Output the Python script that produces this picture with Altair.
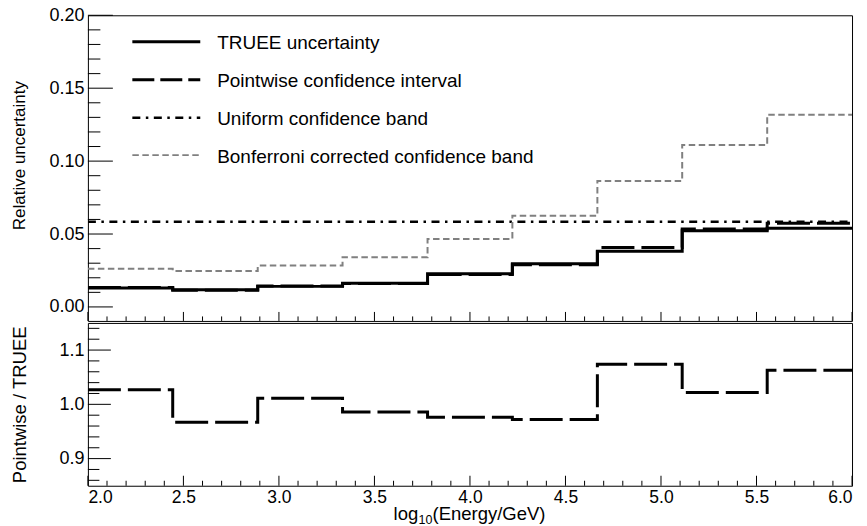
import altair as alt
import pandas as pd

# ---------------- data ----------------
bin_edges = [2.0, 2.444, 2.889, 3.333, 3.778, 4.222, 4.667, 5.111, 5.556, 6.0]
truee = [0.0130, 0.0118, 0.0141, 0.0162, 0.0228, 0.0296, 0.0382, 0.0523, 0.0539]
pointwise = [0.0134, 0.0114, 0.0143, 0.0160, 0.0223, 0.0289, 0.0408, 0.0535, 0.0574]
uniform = [0.0584, 0.0584, 0.0584, 0.0584, 0.0584, 0.0584, 0.0584, 0.0584, 0.0584]
bonferroni = [0.0262, 0.0246, 0.0284, 0.0341, 0.0466, 0.0625, 0.0864, 0.1110, 0.1318]
ratio = [1.027, 0.967, 1.011, 0.986, 0.976, 0.972, 1.074, 1.022, 1.063]

series_names = ["TRUEE uncertainty", "Pointwise confidence interval",
                "Uniform confidence band", "Bonferroni corrected confidence band"]

x_major = [2.0, 2.5, 3.0, 3.5, 4.0, 4.5, 5.0, 5.5, 6.0]
x_minor = [2.1, 2.2, 2.3, 2.4, 2.6, 2.7, 2.8, 2.9, 3.1, 3.2, 3.3, 3.4,
           3.6, 3.7, 3.8, 3.9, 4.1, 4.2, 4.3, 4.4, 4.6, 4.7, 4.8, 4.9,
           5.1, 5.2, 5.3, 5.4, 5.6, 5.7, 5.8, 5.9]
top_y_major = [0.0, 0.05, 0.10, 0.15, 0.20]
top_y_minor = [0.01, 0.02, 0.03, 0.04, 0.06, 0.07, 0.08, 0.09, 0.11, 0.12,
               0.13, 0.14, 0.16, 0.17, 0.18, 0.19]
bot_y_major = [0.9, 1.0, 1.1]
bot_y_minor = [0.86, 0.88, 0.92, 0.94, 0.96, 0.98, 1.02, 1.04, 1.06, 1.08,
               1.12, 1.14]

# ---------------- layout ----------------
W = 765
H_TOP = 306
H_BOT = 163
FONT = "Liberation Sans"

xs = alt.Scale(domain=[2.0, 6.0], nice=False, zero=False)
ys_top = alt.Scale(domain=[-0.0096, 0.20], nice=False, zero=False)
ys_bot = alt.Scale(domain=[0.85, 1.15], nice=False, zero=False)


def step_df(values):
    return pd.DataFrame({"x": bin_edges, "y": list(values) + [values[-1]]})


y_axis_top = alt.Axis(values=top_y_major, format=".2f", grid=False, domain=False,
                      ticks=False, labelFontSize=18, labelPadding=4, labelFont=FONT,
                      labelColor="black", title="Relative uncertainty",
                      titleFont=FONT, titleFontSize=17, titleFontWeight="normal",
                      titleColor="black", titleAngle=270, titleX=-68.5, titleY=140,
                      titleAlign="center", titleBaseline="middle")
y_axis_bot = alt.Axis(values=bot_y_major, format=".1f", grid=False, domain=False,
                      ticks=False, labelFontSize=18, labelPadding=4, labelFont=FONT,
                      labelColor="black", title="Pointwise / TRUEE",
                      titleFont=FONT, titleFontSize=18.5, titleFontWeight="normal",
                      titleColor="black", titleAngle=270, titleX=-68.5, titleY=81.5,
                      titleAlign="center", titleBaseline="middle")
x_axis_bot = alt.Axis(values=x_major, format=".1f", grid=False, domain=False,
                      ticks=False, labelFontSize=17.5, labelPadding=3, labelFont=FONT,
                      labelColor="black", title=None)


def step_line(values, yscale, yaxis, xaxis, color, width, dash):
    kw = dict(interpolate="step-after", color=color, strokeWidth=width, clip=True,
              strokeCap="butt")
    if dash:
        kw["strokeDash"] = dash
    return alt.Chart(step_df(values)).mark_line(**kw).encode(
        x=alt.X("x:Q", scale=xs, axis=xaxis),
        y=alt.Y("y:Q", scale=yscale, axis=yaxis),
    )


def x_ticks(values, length, h, xaxis):
    return alt.Chart(pd.DataFrame({"x": values})).mark_rule(color="black", strokeWidth=1).encode(
        x=alt.X("x:Q", scale=xs, axis=xaxis),
        y=alt.value(h - length),
        y2=alt.value(h),
    )


def y_ticks(values, length, yscale, yaxis):
    return alt.Chart(pd.DataFrame({"y": values})).mark_rule(color="black", strokeWidth=1).encode(
        y=alt.Y("y:Q", scale=yscale, axis=yaxis),
        x=alt.value(0),
        x2=alt.value(length),
    )


styles = [
    dict(color="black", width=3, dash=None, legend_dash=None),
    dict(color="black", width=3, dash=[33, 7], legend_dash=[22, 6]),
    dict(color="black", width=2.5, dash=[8, 5.5, 2.5, 5.5], legend_dash=[8, 5.5, 2.5, 5.5]),
    dict(color="#808080", width=2, dash=[6.5, 3.5], legend_dash=[6.5, 3.5]),
]
series_values = [truee, pointwise, uniform, bonferroni]

top_layers = []
for vals, st in zip(series_values, styles):
    top_layers.append(step_line(vals, ys_top, y_axis_top, None, st["color"], st["width"], st["dash"]))

# legend (custom, ROOT style)
legend_line_y = [26.5, 64.5, 102.5, 140.0]
for name, st, ly in zip(series_names, styles, legend_line_y):
    kw = dict(color=st["color"], strokeWidth=st["width"], strokeCap="butt")
    if st["legend_dash"]:
        kw["strokeDash"] = st["legend_dash"]
    top_layers.append(
        alt.Chart(pd.DataFrame({"label": [name]})).mark_rule(**kw).encode(
            x=alt.value(44.5), x2=alt.value(112.5), y=alt.value(ly)
        )
    )
    top_layers.append(
        alt.Chart(pd.DataFrame({"label": [name]})).mark_text(
            align="left", baseline="middle", font=FONT, fontSize=19, color="black"
        ).encode(x=alt.value(129.4), y=alt.value(ly + 1.5), text="label:N")
    )

top_layers += [
    x_ticks(x_major, 9, H_TOP, None),
    x_ticks(x_minor, 4.5, H_TOP, None),
    y_ticks(top_y_major, 25, ys_top, y_axis_top),
    y_ticks(top_y_minor, 12.5, ys_top, y_axis_top),
]

# invisible anchor fixing the page origin (left & top margins)
top_layers.append(
    alt.Chart(pd.DataFrame({"a": [0]})).mark_rule(strokeOpacity=0, strokeWidth=1).encode(
        x=alt.value(-86.8), x2=alt.value(779.0), y=alt.value(-14.5)
    )
)

top = alt.layer(*top_layers).properties(width=W, height=H_TOP)

bot_layers = [
    step_line(ratio, ys_bot, y_axis_bot, x_axis_bot, "black", 3, [33, 7]),
    x_ticks(x_major, 10, H_BOT, x_axis_bot),
    x_ticks(x_minor, 5, H_BOT, x_axis_bot),
    y_ticks(bot_y_major, 23, ys_bot, y_axis_bot),
    y_ticks(bot_y_minor, 11.5, ys_bot, y_axis_bot),
]

# x-axis title with subscript
title_parts = ["log", "10", "(Energy/GeV)"]
bot_layers += [
    alt.Chart(pd.DataFrame({"t": [title_parts[0]]})).mark_text(
        align="left", baseline="alphabetic", font=FONT, fontSize=18.5, color="black"
    ).encode(x=alt.value(306.0), y=alt.value(197.0), text="t:N"),
    alt.Chart(pd.DataFrame({"t": [title_parts[1]]})).mark_text(
        align="left", baseline="alphabetic", font=FONT, fontSize=12.5, color="black"
    ).encode(x=alt.value(331.0), y=alt.value(201.5), text="t:N"),
    alt.Chart(pd.DataFrame({"t": [title_parts[2]]})).mark_text(
        align="left", baseline="alphabetic", font=FONT, fontSize=18.5, color="black"
    ).encode(x=alt.value(345.0), y=alt.value(197.0), text="t:N"),
]

bot = alt.layer(*bot_layers).properties(width=W, height=H_BOT)

chart = alt.vconcat(top, bot, spacing=0).properties(
    padding=0, background="white"
).configure_view(stroke="black", strokeWidth=1)

chart.save("out.html", embed_options={"renderer": "svg", "actions": False})
